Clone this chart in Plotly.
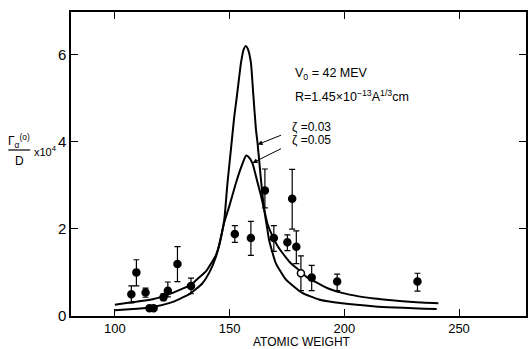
import plotly.graph_objects as go

# Measured points
pt_x = [107.2, 109.4, 113.4, 115.1, 116.9, 121.2, 123.1, 127.3, 133.2, 152.3,
        159.3, 165.4, 169.3, 175.2, 177.3, 179.1, 181.1, 185.8, 196.9, 231.9]
pt_y = [0.50, 1.00, 0.54, 0.18, 0.18, 0.43, 0.58, 1.19, 0.69, 1.88,
        1.79, 2.88, 1.79, 1.69, 2.69, 1.59, 0.98, 0.88, 0.79, 0.79]
err_plus = [0.19, 0.29, 0.10, 0.0, 0.05, 0.08, 0.20, 0.40, 0.18, 0.19,
            0.38, 0.49, 0.28, 0.17, 0.67, 0.36, 0.40, 0.28, 0.17, 0.19]
err_minus = [0.20, 0.31, 0.11, 0.0, 0.05, 0.08, 0.14, 0.40, 0.18, 0.19,
             0.40, 0.40, 0.31, 0.19, 0.70, 0.39, 0.40, 0.30, 0.21, 0.22]
open_pt = [False] * 16 + [True] + [False] * 3

# Theoretical curve, zeta = 0.03 (narrow, tall)
c03_x = [100, 108, 116, 124, 132.5, 138, 141.2, 144, 146, 147.7, 149.1, 150.6,
         152, 153.2, 155, 156.2, 157.1, 158, 159.3, 160.4, 161.5, 162.2, 163,
         164.3, 165.1, 166.5, 167.2, 170.1, 174.5, 181.7, 188.9, 199, 213.5, 240.3]
c03_y = [0.13, 0.16, 0.20, 0.30, 0.50, 0.74, 1.00, 1.35, 1.75, 2.21, 3.05, 3.82,
         4.55, 5.04, 5.81, 6.12, 6.19, 6.12, 5.81, 5.04, 4.28, 3.97, 3.51,
         2.80, 2.44, 1.98, 1.75, 1.22, 0.84, 0.53, 0.38, 0.29, 0.22, 0.16]

# Theoretical curve, zeta = 0.05 (broad)
c05_x = [100, 108, 116, 121, 127, 133.2, 136, 139.8, 141.2, 144.1, 145.5, 147.7,
         149.9, 152.8, 155, 157.2, 158.2, 160, 162, 163.5, 165.1, 166.5, 168.7,
         171, 173, 176.5, 180.3, 184, 188.9, 193, 199, 206.3, 213, 220.7, 230, 241]
c05_y = [0.26, 0.32, 0.38, 0.45, 0.57, 0.72, 0.85, 1.03, 1.14, 1.40, 1.62, 2.15,
         2.52, 3.05, 3.40, 3.68, 3.65, 3.50, 3.10, 2.80, 2.44, 2.12, 1.83,
         1.60, 1.45, 1.22, 1.05, 0.88, 0.74, 0.63, 0.53, 0.45, 0.40, 0.36, 0.32, 0.29]

x_ticks = [100, 150, 200, 250]
y_ticks = [0, 2, 4, 6]

FONT = "Liberation Sans"
W, H = 529, 349
L, R, T, B = 71, 1, 12, 33
pw, ph = W - L - R, H - T - B

fig = go.Figure()
for cx, cy in ((c03_x, c03_y), (c05_x, c05_y)):
    fig.add_trace(go.Scatter(x=cx, y=cy, mode="lines",
                             line=dict(color="black", width=2, shape="spline", smoothing=0.5),
                             showlegend=False, hoverinfo="skip"))
fig.add_trace(go.Scatter(
    x=pt_x, y=pt_y, mode="markers",
    marker=dict(size=7, color=["white" if o else "black" for o in open_pt],
                line=dict(color="black", width=1.5), symbol="circle"),
    error_y=dict(type="data", symmetric=False, array=err_plus, arrayminus=err_minus,
                 color="black", thickness=1.2, width=3),
    showlegend=False))

fig.update_xaxes(range=[80.9, 279.2], tickvals=x_ticks, ticks="inside", ticklen=7,
                 tickwidth=1.2, tickcolor="black", showline=True, linecolor="black",
                 linewidth=1.5, mirror="ticks", showgrid=False, zeroline=False,
                 ticklabelstandoff=0,
                 tickfont=dict(family=FONT, size=13, color="black"))
fig.update_yaxes(range=[0, 6.97], tickvals=y_ticks, ticks="inside", ticklen=7,
                 tickwidth=1.2, tickcolor="black", showline=True, linecolor="black",
                 linewidth=1.5, mirror="ticks", showgrid=False, zeroline=False,
                 tickfont=dict(family=FONT, size=15, color="black"))


def px_ann(text, x, y, xanchor="left", size=12.5):
    fig.add_annotation(text=text, x=(x - L) / pw, y=(H - B - y) / ph,
                       xref="paper", yref="paper", xanchor=xanchor, yanchor="middle",
                       showarrow=False, font=dict(family=FONT, size=size, color="black"))


px_ann("V<sub>0</sub> = 42 MEV", 294, 74)
px_ann("R=1.45×10<sup>−13</sup>A<sup>1/3</sup>cm", 294, 96)
px_ann("ζ =0.03", 291, 127, size=12)
px_ann("ζ =0.05", 291, 140, size=12)
px_ann("Γ<sub>α</sub><sup>(o)</sup>", 19, 141, xanchor="center", size=12)
px_ann("D", 19, 161, xanchor="center", size=12)
px_ann("x10<sup>4</sup>", 32, 151, size=11)
px_ann("ATOMIC WEIGHT", 303, 341.5, xanchor="center", size=12)

# arrows to curves
fig.add_annotation(x=162.2, y=3.93, ax=25, ay=-10, xref="x", yref="y", text="",
                   showarrow=True, arrowhead=2, arrowsize=1, arrowwidth=1, arrowcolor="black")
fig.add_annotation(x=160.0, y=3.51, ax=30, ay=-15, xref="x", yref="y", text="",
                   showarrow=True, arrowhead=2, arrowsize=1, arrowwidth=1, arrowcolor="black")

# fraction bar of y title
fig.add_shape(type="line", xref="paper", yref="paper",
              x0=(8 - L) / pw, x1=(30 - L) / pw,
              y0=(H - B - 150) / ph, y1=(H - B - 150) / ph,
              line=dict(color="black", width=1.2))

fig.update_layout(width=W, height=H, margin=dict(l=L, r=R, t=T, b=B),
                  paper_bgcolor="white", plot_bgcolor="white",
                  font=dict(family=FONT, color="black"))

fig.write_html("out.html")
